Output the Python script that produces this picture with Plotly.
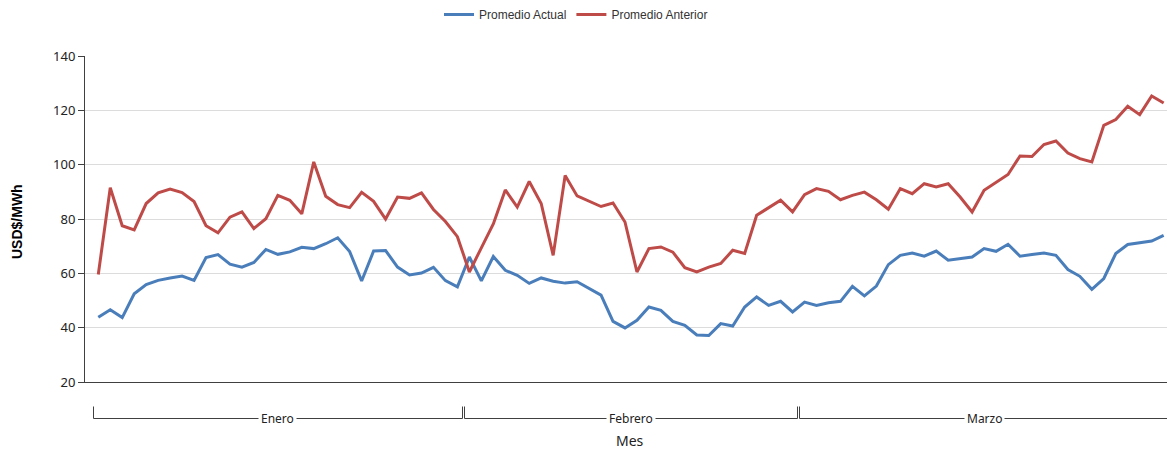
import plotly.graph_objects as go

# Categories: one point per day, grouped by month
meses = ["Enero", "Febrero", "Marzo"]
dias_por_mes = [31, 28, 31]
dias = [f"{m} {d}" for m, n in zip(meses, dias_por_mes) for d in range(1, n + 1)]

# Daily average price (USD$/MWh)
promedio_actual = [
    43.8, 46.6, 43.7, 52.5, 55.9, 57.4, 58.3, 59.0, 57.4, 65.8, 66.9, 63.4, 62.3, 64.0, 68.8, 67.0,
    67.9, 69.6, 69.1, 70.9, 73.1, 68.0, 57.2, 68.2, 68.4, 62.3, 59.4, 60.1, 62.2, 57.3, 55.0,
    66.0, 57.2, 66.2, 61.1, 59.3, 56.3, 58.3, 57.1, 56.4, 56.9, 54.6, 52.0, 42.3, 39.9, 42.7, 47.6,
    46.4, 42.3, 40.9, 37.3, 37.1, 41.5, 40.6, 47.6, 51.3, 48.2, 49.7, 45.8,
    49.4, 48.2, 49.2, 49.7, 55.2, 51.7, 55.3, 63.2, 66.6, 67.5, 66.3, 68.2, 64.8, 65.4, 66.0, 69.1,
    68.1, 70.7, 66.3, 66.9, 67.5, 66.6, 61.4, 58.9, 54.1, 58.1, 67.3, 70.6, 71.2, 71.9, 74.0,
]
promedio_anterior = [
    59.6, 91.5, 77.5, 76.0, 85.7, 89.6, 91.0, 89.7, 86.4, 77.5, 74.9, 80.7, 82.6, 76.5, 80.1, 88.7,
    86.9, 81.9, 101.0, 88.4, 85.3, 84.2, 89.8, 86.5, 80.0, 88.1, 87.6, 89.6, 83.5, 79.1, 73.5,
    60.5, 69.4, 78.2, 90.7, 84.4, 93.8, 85.7, 66.6, 96.0, 88.5, 86.6, 84.6, 85.9, 78.9, 60.5, 69.1,
    69.7, 67.8, 62.1, 60.5, 62.3, 63.6, 68.5, 67.3, 81.4, 84.2, 86.9, 82.6,
    89.0, 91.2, 90.2, 87.1, 88.7, 89.9, 87.1, 83.6, 91.2, 89.3, 93.0, 91.8, 93.0, 88.1, 82.6, 90.6,
    93.6, 96.4, 103.2, 103.0, 107.4, 108.7, 104.3, 102.2, 101.0, 114.5, 116.6, 121.5, 118.4, 125.3, 122.7,
]
y_ticks = [20, 40, 60, 80, 100, 120, 140]

# Page geometry
W, H = 1167, 449
PLOT_L, PLOT_R, PLOT_T, PLOT_B = 85, 1167, 56, 382
X0, X1 = -1.11, 89.28
AXIS_COLOR = "#404040"
TICK_FONT = "Noto Sans, DejaVu Sans, sans-serif"


def py(ypix):
    return (PLOT_B - ypix) / (PLOT_B - PLOT_T)


def px(xpix):
    return (xpix - PLOT_L) / (PLOT_R - PLOT_L)


def ix(idx):
    return (idx - X0) / (X1 - X0)


def ix_crisp(idx):
    # snap a category position to the middle of a pixel so 1px lines stay sharp
    xpix = PLOT_L + ix(idx) * (PLOT_R - PLOT_L)
    return px(int(xpix) + 0.5)


fig = go.Figure()
fig.add_trace(go.Scatter(x=dias, y=promedio_actual, mode="lines", name="Promedio Actual",
                         line=dict(color="#4A7EBB", width=3)))
fig.add_trace(go.Scatter(x=dias, y=promedio_anterior, mode="lines", name="Promedio Anterior",
                         line=dict(color="#BE4B48", width=3)))

# Month brackets below the x axis
shapes = []
annotations = []
start = 0
d = 0.09
for mes, n in zip(meses, dias_por_mes):
    left, right = start - 0.5, start + n - 0.5
    y_top, y_bot = py(406.5), py(418.5)
    line = dict(color=AXIS_COLOR, width=1)
    xl, xr = ix_crisp(left + d), ix_crisp(right - d)
    shapes.append(dict(type="line", xref="paper", yref="paper",
                       x0=xl, x1=xr, y0=y_bot, y1=y_bot, line=line))
    shapes.append(dict(type="line", xref="paper", yref="paper",
                       x0=xl, x1=xl, y0=y_top, y1=y_bot, line=line))
    shapes.append(dict(type="line", xref="paper", yref="paper",
                       x0=xr, x1=xr, y0=y_top, y1=y_bot, line=line))
    annotations.append(dict(text=mes, xref="paper", yref="paper", x=ix((left + right) / 2), y=y_bot,
                            xanchor="center", yanchor="middle", showarrow=False,
                            bgcolor="white", borderpad=2,
                            font=dict(family=TICK_FONT, size=12, color="#222")))
    start += n

annotations.append(dict(text="Mes", xref="paper", yref="paper", x=px(630), y=py(440),
                        xanchor="center", yanchor="middle", showarrow=False,
                        font=dict(family=TICK_FONT, size=14, color="#222")))
annotations.append(dict(text="<b>USD$/MWh</b>", xref="paper", yref="paper", x=px(17), y=py(222),
                        xanchor="center", yanchor="middle", showarrow=False, textangle=-90,
                        font=dict(family="Liberation Sans, Arial, sans-serif", size=14, color="#000")))

fig.update_layout(
    width=W, height=H,
    margin=dict(l=PLOT_L, r=W - PLOT_R, t=PLOT_T, b=H - PLOT_B),
    paper_bgcolor="white", plot_bgcolor="white",
    showlegend=True,
    legend=dict(orientation="h", x=px(576), xanchor="center", y=py(14), yanchor="middle",
                font=dict(family="Liberation Sans, Arial, sans-serif", size=12, color="#333"),
                itemwidth=30, bgcolor="rgba(0,0,0,0)"),
    xaxis=dict(type="category", range=[X0, X1], showticklabels=False, ticks="",
               showgrid=False, zeroline=False, showline=True, linecolor=AXIS_COLOR, linewidth=1),
    yaxis=dict(range=[20, 140], tickvals=y_ticks, ticks="outside", ticklen=6, tickcolor=AXIS_COLOR,
               showline=True, linecolor=AXIS_COLOR, linewidth=1, zeroline=False,
               showgrid=True, gridcolor="#dcdcdc", gridwidth=1,
               tickfont=dict(family=TICK_FONT, size=13, color="#222")),
    shapes=shapes,
    annotations=annotations,
)

fig.write_html("out.html")
